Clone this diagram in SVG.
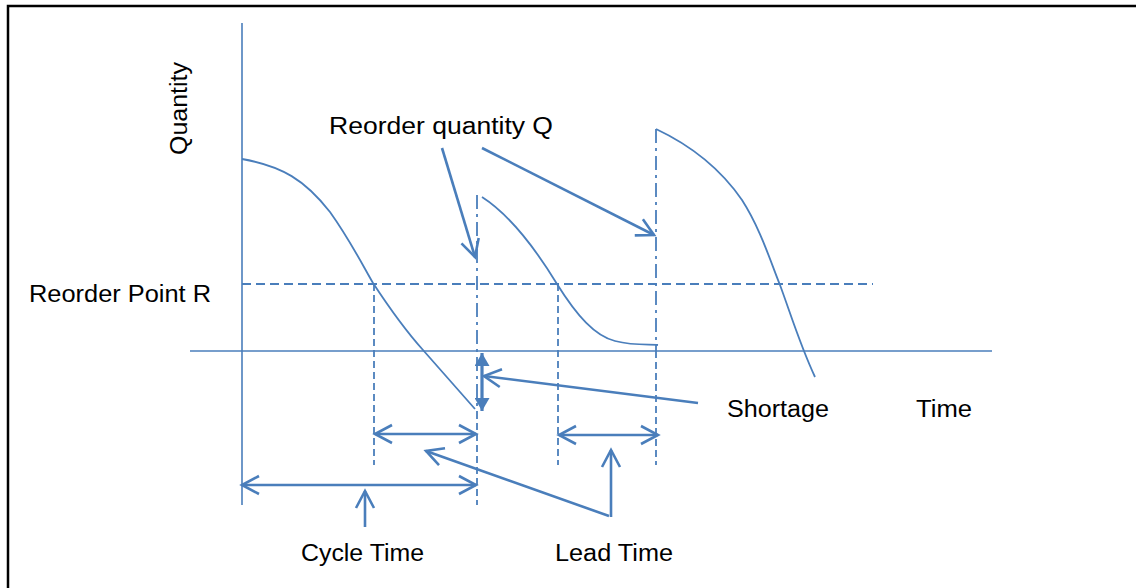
<svg xmlns="http://www.w3.org/2000/svg" width="1136" height="588" viewBox="0 0 1136 588">
<style>
.ln{stroke:#4a7ebb;fill:none}
.ax{stroke-width:1.6}
.cv{stroke-width:1.8}
.ar{stroke-width:2.6;marker-end:url(#oa)}
.dbl{stroke-width:2.6;marker-start:url(#oa);marker-end:url(#oa)}
.dsh{stroke-width:1.8;stroke-dasharray:9,5}
.vd{stroke-width:1.8;stroke-dasharray:7,4}
.dd{stroke-width:1.8;stroke-dasharray:14,5,3,5}
text{font-family:"Liberation Sans",Arial,sans-serif;font-size:23px;fill:#000}
</style>
<defs>
<marker id="oa" markerUnits="userSpaceOnUse" viewBox="-2 -2 22 22" markerWidth="22" markerHeight="22" refX="17" refY="9" orient="auto-start-reverse" overflow="visible">
<path d="M0,0 L17,9 L0,18" fill="none" stroke="#4a7ebb" stroke-width="2.6"/>
</marker>
<marker id="fa" markerUnits="userSpaceOnUse" viewBox="0 0 13 15" markerWidth="13" markerHeight="15" refX="13" refY="7.5" orient="auto-start-reverse">
<path d="M0,0 L13,7.5 L0,15 Z" fill="#4a7ebb"/>
</marker>
</defs>
<rect width="1136" height="588" fill="#fff"/>
<path d="M8,592 L8,6 L1140,6" fill="none" stroke="#000" stroke-width="2.5"/>

<g id="axes">
<line class="ln ax" x1="242" y1="23" x2="242" y2="505"/>
<line class="ln ax" x1="190" y1="351" x2="992" y2="351"/>
</g>

<g id="guides">
<line class="ln dsh" x1="242" y1="284" x2="873" y2="284"/>
<line class="ln vd" x1="374" y1="284" x2="374" y2="465"/>
<line class="ln vd" x1="558" y1="284" x2="558" y2="465"/>
<line class="ln dd" x1="477" y1="195" x2="477" y2="412"/>
<line class="ln vd" x1="477" y1="412" x2="477" y2="505"/>
<line class="ln dd" x1="656" y1="129" x2="656" y2="351"/>
<line class="ln vd" x1="656" y1="351" x2="656" y2="465"/>
</g>

<g id="curves">
<path class="ln cv" d="M242,159 C282,166 305,180 330,212 C350,240 362,264 373,283 C392,312 405,330 423,350 C445,375 460,392 475,409"/>
<path class="ln cv" d="M482,197 C510,215 535,248 557,284 C577,316 595,336 615,341 C635,346 650,344 658,345"/>
<path class="ln cv" d="M656,129 C690,145 720,168 742,200 C760,228 770,260 780,285 C790,312 800,345 815,377"/>
</g>

<g id="connectors">
<line class="ln ar" x1="442" y1="148" x2="475" y2="257"/>
<line class="ln ar" x1="482" y1="148" x2="654" y2="235"/>
<line class="ln ar" x1="698" y1="403" x2="484" y2="376"/>
<line stroke="#4a7ebb" stroke-width="3.2" x1="482" y1="353" x2="482" y2="411" marker-start="url(#fa)" marker-end="url(#fa)"/>
<line class="ln dbl" x1="242" y1="485" x2="476" y2="485"/>
<line class="ln dbl" x1="375" y1="434" x2="476" y2="434"/>
<line class="ln dbl" x1="559" y1="435" x2="658" y2="435"/>
<line class="ln ar" x1="365" y1="527" x2="365" y2="491"/>
<line class="ln ar" x1="611" y1="517" x2="611" y2="450"/>
<line class="ln ar" x1="609" y1="516" x2="426" y2="451"/>
</g>

<g id="labels">
<text x="329" y="134" textLength="224" lengthAdjust="spacingAndGlyphs">Reorder quantity Q</text>
<text x="187" y="108.5" text-anchor="middle" transform="rotate(-90 187 108.5)" textLength="93" lengthAdjust="spacingAndGlyphs">Quantity</text>
<text x="29" y="302" textLength="182" lengthAdjust="spacingAndGlyphs">Reorder Point R</text>
<text x="727" y="417" textLength="102" lengthAdjust="spacingAndGlyphs">Shortage</text>
<text x="916" y="417" textLength="56" lengthAdjust="spacingAndGlyphs">Time</text>
<text x="301" y="561" textLength="123" lengthAdjust="spacingAndGlyphs">Cycle Time</text>
<text x="555" y="561" textLength="118" lengthAdjust="spacingAndGlyphs">Lead Time</text>
</g>
</svg>
